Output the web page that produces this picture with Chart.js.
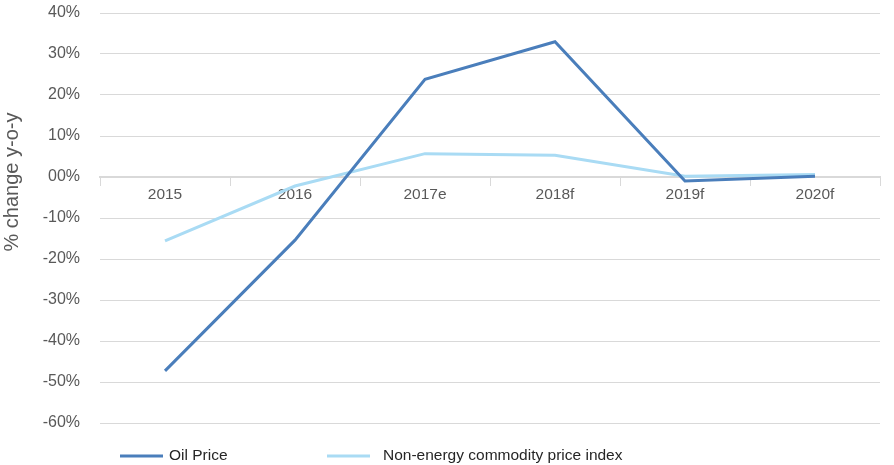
<!DOCTYPE html>
<html>
<head>
<meta charset="utf-8">
<script src="https://cdn.jsdelivr.net/npm/chart.js@4"></script>
<style>
  html, body { margin: 0; padding: 0; background: #fff; }
  #wrap { width: 894px; height: 465px; position: relative; }
</style>
</head>
<body>
<div id="wrap"><canvas id="chart"></canvas></div>
<script>
// data
const years = ['2015', '2016', '2017e', '2018f', '2019f', '2020f'];
const oilPrice = [-47.3, -15.4, 23.8, 33.0, -1.0, 0.2];
const nonEnergy = [-15.6, -2.2, 5.7, 5.3, 0.2, 0.6];
const seriesNames = ['Oil Price', 'Non-energy commodity price index'];
const seriesColors = ['#4a7ebb', '#a9dbf4'];
const yTitle = '% change y-o-y';

const FONT = '"Liberation Sans", Arial, sans-serif';
const GRID = '#d9d9d9';
const TEXT = '#595959';

// legend + rotated axis title drawn by hand
const extras = {
  id: 'extras',
  afterDraw(chart) {
    const ctx = chart.ctx;
    const lineX = [120, 327], textX = [169, 383];
    ctx.save();
    chart.data.datasets.forEach((ds, i) => {
      const y = 456;
      ctx.strokeStyle = ds.borderColor;
      ctx.lineWidth = 3;
      ctx.beginPath(); ctx.moveTo(lineX[i], y); ctx.lineTo(lineX[i] + 43, y); ctx.stroke();
      ctx.fillStyle = '#262626';
      ctx.font = '15.5px ' + FONT;
      ctx.textBaseline = 'middle';
      ctx.fillText(ds.label, textX[i], y);
    });
    ctx.translate(12, 182);
    ctx.rotate(-Math.PI / 2);
    ctx.fillStyle = TEXT;
    ctx.font = '20px ' + FONT;
    ctx.textAlign = 'center';
    ctx.textBaseline = 'middle';
    ctx.fillText(yTitle, 0, 0);
    ctx.restore();
  }
};

new Chart(document.getElementById('chart'), {
  type: 'line',
  data: {
    labels: years,
    datasets: [
      { label: seriesNames[0], data: oilPrice, borderColor: seriesColors[0], borderWidth: 3, pointRadius: 0, tension: 0 },
      { label: seriesNames[1], data: nonEnergy, borderColor: seriesColors[1], borderWidth: 3, pointRadius: 0, tension: 0 },
    ],
  },
  options: {
    responsive: true,
    maintainAspectRatio: false,
    animation: false,
    layout: { padding: { top: 13, right: 14, bottom: 42, left: 0 } },
    plugins: { legend: { display: false }, tooltip: { enabled: false } },
    scales: {
      x: {
        position: { y: 0 },
        offset: true,
        afterFit: (s) => { s.height = 0; },
        grid: { offset: true, drawOnChartArea: false, drawTicks: true, tickLength: 8, color: GRID, lineWidth: 1 },
        border: { display: true, color: GRID, width: 2 },
        ticks: { color: TEXT, font: { family: FONT, size: 15.5 }, padding: 0, maxRotation: 0 },
      },
      y: {
        min: -60, max: 40,
        afterFit: (s) => { s.width = 100; },
        // transparent tick marks give the gap between labels and plot
        grid: { color: GRID, lineWidth: 1, drawTicks: true, tickLength: 20, tickColor: 'rgba(0,0,0,0)' },
        border: { display: false },
        ticks: {
          stepSize: 10, padding: 0, color: TEXT, font: { family: FONT, size: 16 },
          callback: (v) => (v === 0 ? '00%' : v + '%'),
        },
      },
    },
  },
  plugins: [extras],
});
</script>
</body>
</html>
